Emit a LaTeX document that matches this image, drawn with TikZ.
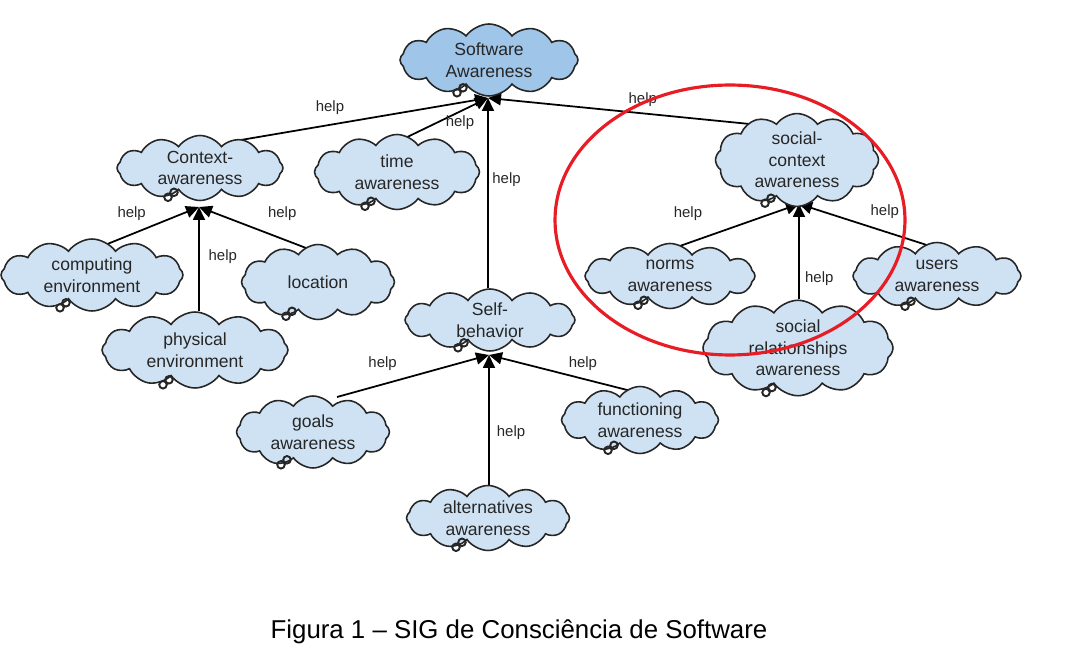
\documentclass[tikz,border=0pt]{standalone}
\usepackage{fontspec}
\setmainfont{Liberation Sans}
\usetikzlibrary{shapes.symbols,arrows.meta,backgrounds}

\definecolor{goalblue}{RGB}{207,226,243}
\definecolor{topblue}{RGB}{159,197,232}
\definecolor{markred}{RGB}{232,28,36}

\tikzstyle{softgoal}=[cloud, cloud puffs=12, cloud puff arc=110, cloud ignores aspect, draw=black!85, fill=goalblue, line width=0.9pt, align=center, text=black!85, font=\fontsize{10}{12.3}\selectfont, inner sep=0pt]
\tikzstyle{helps}=[->, line width=1pt, black]
\tikzstyle{helplbl}=[font=\fontsize{8.5}{10}\selectfont, text=black!85, inner sep=2pt]

\begin{document}
\begin{tikzpicture}[x=0.02cm, y=-0.02cm, >={Triangle[length=0.26cm,width=0.24cm]}]
    \useasboundingbox (0,0) rectangle (1076,665);

    \node[softgoal, fill=topblue, minimum width=3.56cm, minimum height=1.44cm] (swAware) at (489,60) {Software\\Awareness};
    \coordinate (swIn) at (488,98);

    \node[softgoal, minimum width=3.32cm, minimum height=1.3cm] (ctxAware) at (200,168) {Context-\\awareness};
    \coordinate (ctxIn) at (199,207);

    \node[softgoal, minimum width=3.3cm, minimum height=1.5cm] (timeAware) at (397,172) {time\\awareness};

    \node[softgoal, minimum width=3.26cm, minimum height=1.46cm] (socCtx) at (797,160) {social-\\context\\awareness};
    \coordinate (socIn) at (799,204);

    \node[softgoal, minimum width=3.4cm, minimum height=1.24cm] (selfBeh) at (490,320) {Self-\\behavior};
    \coordinate (selfIn) at (489,355);

    \node[softgoal, minimum width=3.64cm, minimum height=1.44cm] (computing) at (92,275) {computing\\environment};
    \node[softgoal, minimum width=3.06cm, minimum height=1.5cm] (location) at (318,282) {location};
    \node[softgoal, minimum width=3.72cm, minimum height=1.52cm] (physical) at (195,350) {physical\\environment};

    \node[softgoal, minimum width=3.4cm, minimum height=1.3cm] (norms) at (670,276) {norms\\awareness};
    \node[softgoal, minimum width=3.36cm, minimum height=1.34cm] (users) at (937,276) {users\\awareness};
    \node[softgoal, minimum width=3.8cm, minimum height=1.7cm] (socRel) at (798,348) {social\\relationships\\awareness};

    \node[softgoal, minimum width=3.06cm, minimum height=1.44cm] (goals) at (313,432) {goals\\awareness};
    \node[softgoal, minimum width=3.14cm, minimum height=1.34cm] (functioning) at (640,420) {functioning\\awareness};
    \node[softgoal, minimum width=3.26cm, minimum height=1.3cm] (alternatives) at (488,518) {alternatives\\awareness};

    \begin{pgfonlayer}{background}
    \draw[helps] ([shift={(0.58cm,0.52cm)}]ctxAware.center) -- node[helplbl, pos=0.39, above=3.3pt] {help} (swIn);
    \draw[helps] ([shift={(0.04cm,0.62cm)}]timeAware.center) -- node[helplbl, pos=0.685, below=0pt] {help} (swIn);
    \draw[helps] ([shift={(-0.34cm,0.66cm)}]socCtx.center) -- node[helplbl, pos=0.47, above=1.4pt] {help} (swIn);
    \draw[helps] (selfBeh.north -| swIn) -- node[helplbl, pos=0.57, right] {help} (swIn);

    \draw[helps] ([shift={(0.16cm,0.56cm)}]computing.center) -- node[helplbl, pos=0.32, above=5.2pt] {help} (ctxIn);
    \draw[helps] ([shift={(0.18cm,0.52cm)}]location.center) -- node[helplbl, pos=0.35, above=7.8pt] {help} (ctxIn);
    \draw[helps] (physical.north -| ctxIn) -- node[helplbl, pos=0.52, right=3pt] {help} (ctxIn);

    \draw[helps] ([shift={(0.14cm,0.58cm)}]norms.center) -- node[helplbl, pos=0.09, above=10.3pt] {help} (socIn);
    \draw[helps] ([shift={(-0.08cm,0.58cm)}]users.center) -- node[helplbl, pos=0.36, above=4.9pt] {help} (socIn);
    \draw[helps] (socRel.north -| socIn) -- node[helplbl, pos=0.22, right=1pt] {help} (socIn);

    \draw[helps] ([shift={(0.48cm,0.7cm)}]goals.center) -- node[helplbl, pos=0.3, above=5.3pt] {help} (selfIn);
    \draw[helps] ([shift={(0.06cm,0.52cm)}]functioning.center) -- node[helplbl, pos=0.39, above=2.2pt] {help} (selfIn);
    \draw[helps] (alternatives.north -| selfIn) -- node[helplbl, pos=0.4, right=2pt] {help} (selfIn);
    \end{pgfonlayer}

    \foreach \g in {swAware,ctxAware,timeAware,socCtx,selfBeh,computing,location,physical,norms,users,socRel,goals,functioning,alternatives}
        \draw[line width=1.1pt, black!85] ([shift={(-0.64cm,0.08cm)}]\g.south) circle (0.075cm)
            ([shift={(-0.52cm,0.18cm)}]\g.south) circle (0.075cm);

    \draw[markred, line width=1.8pt] (730,220) ellipse (3.5cm and 2.7cm);

    \node[font=\fontsize{14.7}{17}\selectfont] (caption) at (519,632) {Figura 1 -- SIG de Consciência de Software};
\end{tikzpicture}
\end{document}
